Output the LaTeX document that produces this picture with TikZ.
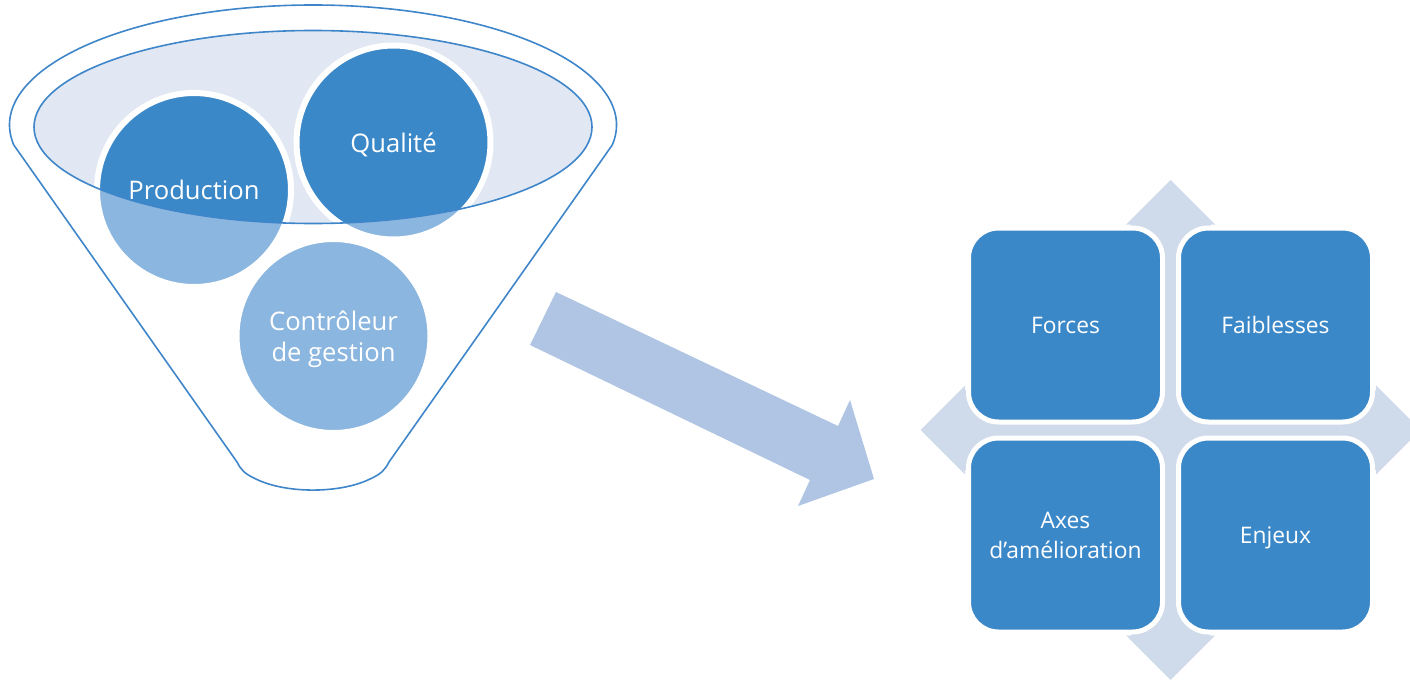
\documentclass[tikz,border=0pt]{standalone}
\usepackage{fontspec}
\setmainfont{Open Sans}
\definecolor{darkc}{RGB}{59,136,201}
\definecolor{lightc}{RGB}{139,182,223}
\definecolor{ellfill}{RGB}{225,232,243}
\definecolor{outl}{RGB}{62,134,201}
\definecolor{arrowc}{RGB}{175,197,227}
\definecolor{quadc}{RGB}{207,218,235}
\tikzset{
  funnelline/.style={draw=outl, line width=0.8pt},
  bubble/.style={circle, minimum size=97pt, inner sep=0pt, outer sep=0pt, draw=white, line width=3pt,
    fill=lightc, text=white, font=\fontsize{12.8}{15.8}\selectfont, align=center, text depth=0pt},
  topbubble/.style={bubble, path picture={\fill[darkc] (ec) ellipse [x radius=279, y radius=96.5];}},
  cell/.style={rectangle, rounded corners=15pt, minimum width=97pt, minimum height=97pt, inner sep=0pt,
    outer sep=0pt, draw=white, line width=2.5pt, fill=darkc, text=white,
    font=\fontsize{11.4}{15}\selectfont, align=center, text depth=0pt},
  bigarrow/.style={fill=arrowc},
  quad/.style={fill=quadc}
}
\begin{document}
\begin{tikzpicture}[x=0.5pt,y=-0.5pt]
\useasboundingbox (0,0) rectangle (1410,680);
% funnel outline
\draw[funnelline] (13.8,145) arc[start angle=170.4, end angle=369.6, x radius=303.5, y radius=120]
  -- (389,462) .. controls (385,470) and (381,474) .. (370,479)
  arc[start angle=40, end angle=140, x radius=74.5, y radius=31]
  .. controls (245,474) and (241,470) .. (237,462) -- cycle;
\coordinate (ec) at (313,127);
\fill[ellfill] (ec) ellipse [x radius=279, y radius=96.5];
% bubbles
\node[topbubble] (prod) at (194,190) {Production};
\node[topbubble] (qual) at (393.5,142.5) {Qualit\'e};
\node[bubble] (ctrl) at (333.5,336) {Contr\^oleur\\de gestion};
\draw[funnelline] (ec) ellipse [x radius=279, y radius=96.5];
% big arrow
\fill[bigarrow] (556,292) -- (838,426) -- (850,400) -- (874,479) -- (798,506) -- (810,480) -- (530,345) -- cycle;
% quad arrow background
\fill[quad] (1170.5,180) -- (1215,224.5) -- (1210.5,224.5) -- (1210.5,390) -- (1376,390) -- (1376,385.5)
  -- (1420.5,430) -- (1376,474.5) -- (1376,470) -- (1210.5,470) -- (1210.5,635.5) -- (1215,635.5)
  -- (1170.5,680) -- (1126,635.5) -- (1130.5,635.5) -- (1130.5,470) -- (965,470) -- (965,474.5)
  -- (920.5,430) -- (965,385.5) -- (965,390) -- (1130.5,390) -- (1130.5,224.5) -- (1126,224.5) -- cycle;
% matrix cells
\node[cell] (forces) at (1065.5,325) {Forces};
\node[cell] (faib) at (1275.5,325) {Faiblesses};
\node[cell] (axes) at (1065.5,535) {Axes\\d’amélioration};
\node[cell] (enjeux) at (1275.5,535) {Enjeux};
\end{tikzpicture}
\end{document}
